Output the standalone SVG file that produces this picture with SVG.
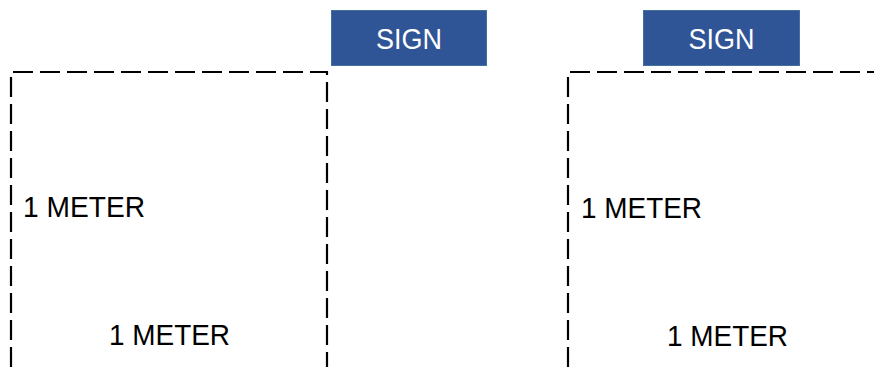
<svg xmlns="http://www.w3.org/2000/svg" width="874" height="367" viewBox="0 0 874 367">
<style>
.zone{fill:none;stroke:#000;stroke-width:2.2;stroke-dasharray:20 7}
.sign{fill:#2F5597;stroke:#41719C;stroke-width:1}
.st{font-family:"Liberation Sans",Arial,sans-serif;font-size:30px;fill:#fff;text-anchor:middle}
.lbl{font-family:"Liberation Sans",Arial,sans-serif;font-size:30px;fill:#000}
</style>
<rect width="874" height="367" fill="#fff"/>
<g id="zone-left">
<path class="zone" d="M11 367 V72 H327 V367"/>
<text class="lbl" x="23" y="217" textLength="122" lengthAdjust="spacingAndGlyphs">1 METER</text>
<text class="lbl" x="109" y="345" textLength="121" lengthAdjust="spacingAndGlyphs">1 METER</text>
</g>
<g id="zone-right">
<path class="zone" d="M568 367 V72 H874"/>
<text class="lbl" x="581" y="218" textLength="121" lengthAdjust="spacingAndGlyphs">1 METER</text>
<text class="lbl" x="667" y="346" textLength="121" lengthAdjust="spacingAndGlyphs">1 METER</text>
</g>
<g id="sign-left">
<rect class="sign" x="331.5" y="10.5" width="155" height="55"/>
<text class="st" x="409" y="49" textLength="66" lengthAdjust="spacingAndGlyphs">SIGN</text>
</g>
<g id="sign-right">
<rect class="sign" x="643.5" y="10.5" width="156" height="55"/>
<text class="st" x="721.5" y="49" textLength="66" lengthAdjust="spacingAndGlyphs">SIGN</text>
</g>
<g id="connectors"/>
</svg>
